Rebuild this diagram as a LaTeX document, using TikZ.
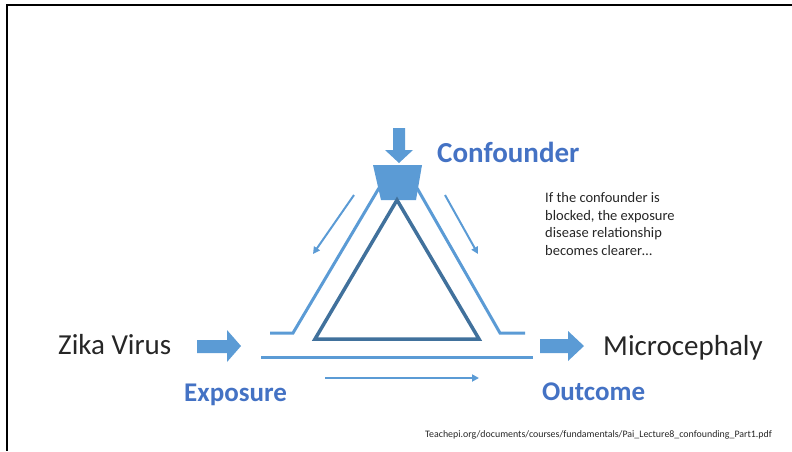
\documentclass[tikz,border=0pt]{standalone}
\usepackage{xcolor}
\usepackage{fontspec}
\setmainfont{Carlito}
\usepackage{tikz}
\usetikzlibrary{positioning, arrows.meta}
\definecolor{shapeblue}{HTML}{5B9BD5}
\definecolor{darkblue}{HTML}{41719C}
\definecolor{labelblue}{HTML}{4472C4}
\definecolor{textgray}{HTML}{262626}

\tikzset{
  pathline/.style={shapeblue, line width=3pt},
  flowarrow/.style={shapeblue, line width=2pt, -{Triangle[length=7pt,width=7pt]}},
  blockarrow/.style={fill=shapeblue, draw=none},
  bigword/.style={text=textgray, font=\fontsize{29}{34}\selectfont, inner sep=0pt},
  rolelabel/.style={text=labelblue, font=\bfseries\fontsize{27}{32}\selectfont, inner sep=0pt},
}

\begin{document}
\begin{tikzpicture}[x=1pt, y=-1pt]
    \useasboundingbox (0,0) rectangle (792,451);
    % slide frame
    \draw[line width=2pt, black] (792,5) -- (7,5) -- (7,451);

    % corners of the triangle
    \coordinate (apex) at (397,200);
    \coordinate (expcorner) at (315,339);
    \coordinate (outcorner) at (479,339);

    % confounder block
    \draw[blockarrow] (393,128) -- (405,128) -- (405,150) -- (413,150)
        -- (399,163) -- (385,150) -- (393,150) -- cycle;
    \draw[blockarrow] (373,165) -- (422,165) -- (416,200) -- (381,200) -- cycle;

    % triangle
    \draw[darkblue, line width=3.5pt, line join=miter] (apex) -- (expcorner) -- (outcorner) -- cycle;

    % outer paths
    \coordinate (leftstart) at (379,188);
    \coordinate (leftbend) at (293,333);
    \coordinate (leftend) at (270,333);
    \coordinate (rightstart) at (417,188);
    \coordinate (rightbend) at (500,333);
    \coordinate (rightend) at (525,333);
    \draw[pathline] (leftstart) -- (leftbend) -- (leftend);
    \draw[pathline] (rightstart) -- (rightbend) -- (rightend);
    \coordinate (baseleft) at (261,357);
    \coordinate (baseright) at (533,357);
    \draw[pathline] (baseleft) -- (baseright);

    % flow arrows
    \coordinate (lflowa) at (354,195);
    \coordinate (lflowb) at (313,254);
    \coordinate (rflowa) at (445,195);
    \coordinate (rflowb) at (478,254);
    \coordinate (bflowa) at (325,378);
    \coordinate (bflowb) at (479,378);
    \draw[flowarrow] (lflowa) -- (lflowb);
    \draw[flowarrow] (rflowa) -- (rflowb);
    \draw[flowarrow] (bflowa) -- (bflowb);

    % side block arrows
    \draw[blockarrow] (197,340) -- (227,340) -- (227,330) -- (241,346)
        -- (227,362) -- (227,353) -- (197,353) -- cycle;
    \draw[blockarrow] (540,339) -- (568,339) -- (568,331) -- (584,346)
        -- (568,361) -- (568,353) -- (540,353) -- cycle;

    % labels
    \node[bigword, anchor=base west] (zika) at (58,354) {Zika Virus};
    \node[bigword, anchor=base west] (microcephaly) at (603,355) {Microcephaly};
    \node[rolelabel, anchor=base west] (exposure) at (184,401) {Exposure};
    \node[rolelabel, anchor=base west] (outcome) at (542,400) {Outcome};
    \node[rolelabel, anchor=base west, font=\bfseries\fontsize{29}{34}\selectfont] (confounder) at (437,162) {Confounder};
    \node[anchor=north west, inner sep=0pt, align=left, text=textgray,
          font=\fontsize{14.5}{17.8}\selectfont] (note) at (545,192)
        {If the confounder is\\blocked, the exposure\\disease relationship\\becomes clearer\dots};
    \node[anchor=base west, inner sep=0pt, text=textgray,
          font=\fontsize{9.9}{11}\selectfont] (source) at (425,437)
        {Teachepi.org/documents/courses/fundamentals/Pai\_Lecture8\_confounding\_Part1.pdf};
\end{tikzpicture}
\end{document}
